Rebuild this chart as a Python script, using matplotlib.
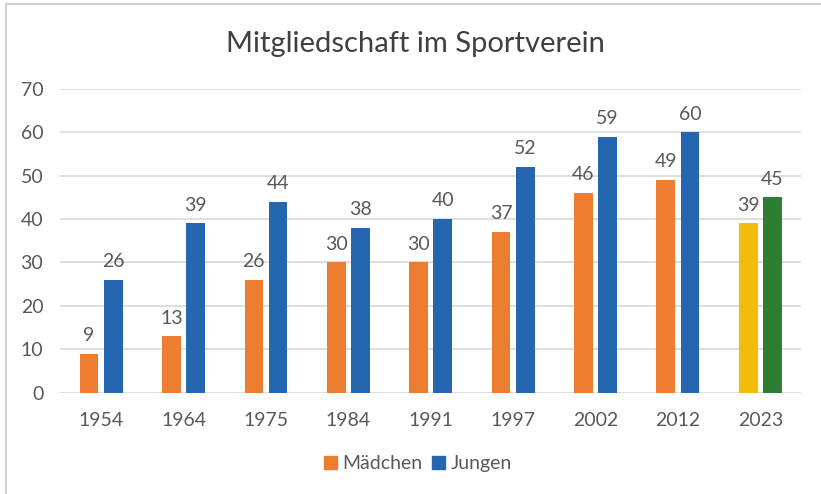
import matplotlib
matplotlib.use('Agg')
import matplotlib.pyplot as plt
from matplotlib.patches import Rectangle, Patch
import numpy as np

plt.rcParams['font.family'] = ['Lato', 'DejaVu Sans']

years = ['1954', '1964', '1975', '1984', '1991', '1997', '2002', '2012', '2023']
maedchen = [9, 13, 26, 30, 30, 37, 46, 49, 39]
jungen = [26, 39, 44, 38, 40, 52, 59, 60, 45]

orange = '#ED7D31'
blue = '#2566B0'
yellow = '#F2BE0A'
green = '#2E7D32'
grey_txt = '#595959'

# last year highlighted in other colours
col_m = [orange] * (len(years) - 1) + [yellow]
col_j = [blue] * (len(years) - 1) + [green]

fig = plt.figure(figsize=(8.21, 4.94), dpi=100)
ax = fig.add_axes([0.0731, 0.2051, 0.9031, 0.6149])

x = np.arange(len(years))
w = 0.227
off = 0.147
b1 = ax.bar(x - off, maedchen, w, color=col_m, zorder=3)
b2 = ax.bar(x + off, jungen, w, color=col_j, zorder=3)

for bars, vals in ((b1, maedchen), (b2, jungen)):
    for rect, v in zip(bars, vals):
        ax.annotate(str(v), (rect.get_x() + rect.get_width() / 2, v),
                    xytext=(0, 7), textcoords='offset points',
                    ha='center', va='bottom', fontsize=14, color=grey_txt)

ax.set_xlim(-0.5, len(years) - 0.5)
ax.set_ylim(0, 70)
ax.set_yticks(range(0, 71, 10))
ax.set_xticks(x)
ax.set_xticklabels(years)
ax.yaxis.grid(True, color='#D9D9D9', linewidth=1.2, zorder=0)
ax.tick_params(axis='both', length=0, labelsize=14, labelcolor=grey_txt)
ax.tick_params(axis='y', pad=12)
ax.tick_params(axis='x', pad=14)
for s in ax.spines.values():
    s.set_visible(False)

fig.text(0.5055, 0.8947, 'Mitgliedschaft im Sportverein', ha='center', va='baseline',
         fontsize=21, color='#404040')

handles = [Patch(color=orange, label='Mädchen'), Patch(color=blue, label='Jungen')]
fig.legend(handles=handles, loc='center', bbox_to_anchor=(0.509, 0.061), ncol=2,
           frameon=False, fontsize=14, handlelength=0.65, handleheight=0.65,
           handletextpad=0.3, columnspacing=0.5, labelcolor=grey_txt)

# light frame around the chart area
fig.patches.append(Rectangle((0.0067, -0.05), 1.0, 1.041, transform=fig.transFigure,
                             fill=False, edgecolor='#D0D0D0', linewidth=1.5))

fig.savefig('out.png', dpi=100)
